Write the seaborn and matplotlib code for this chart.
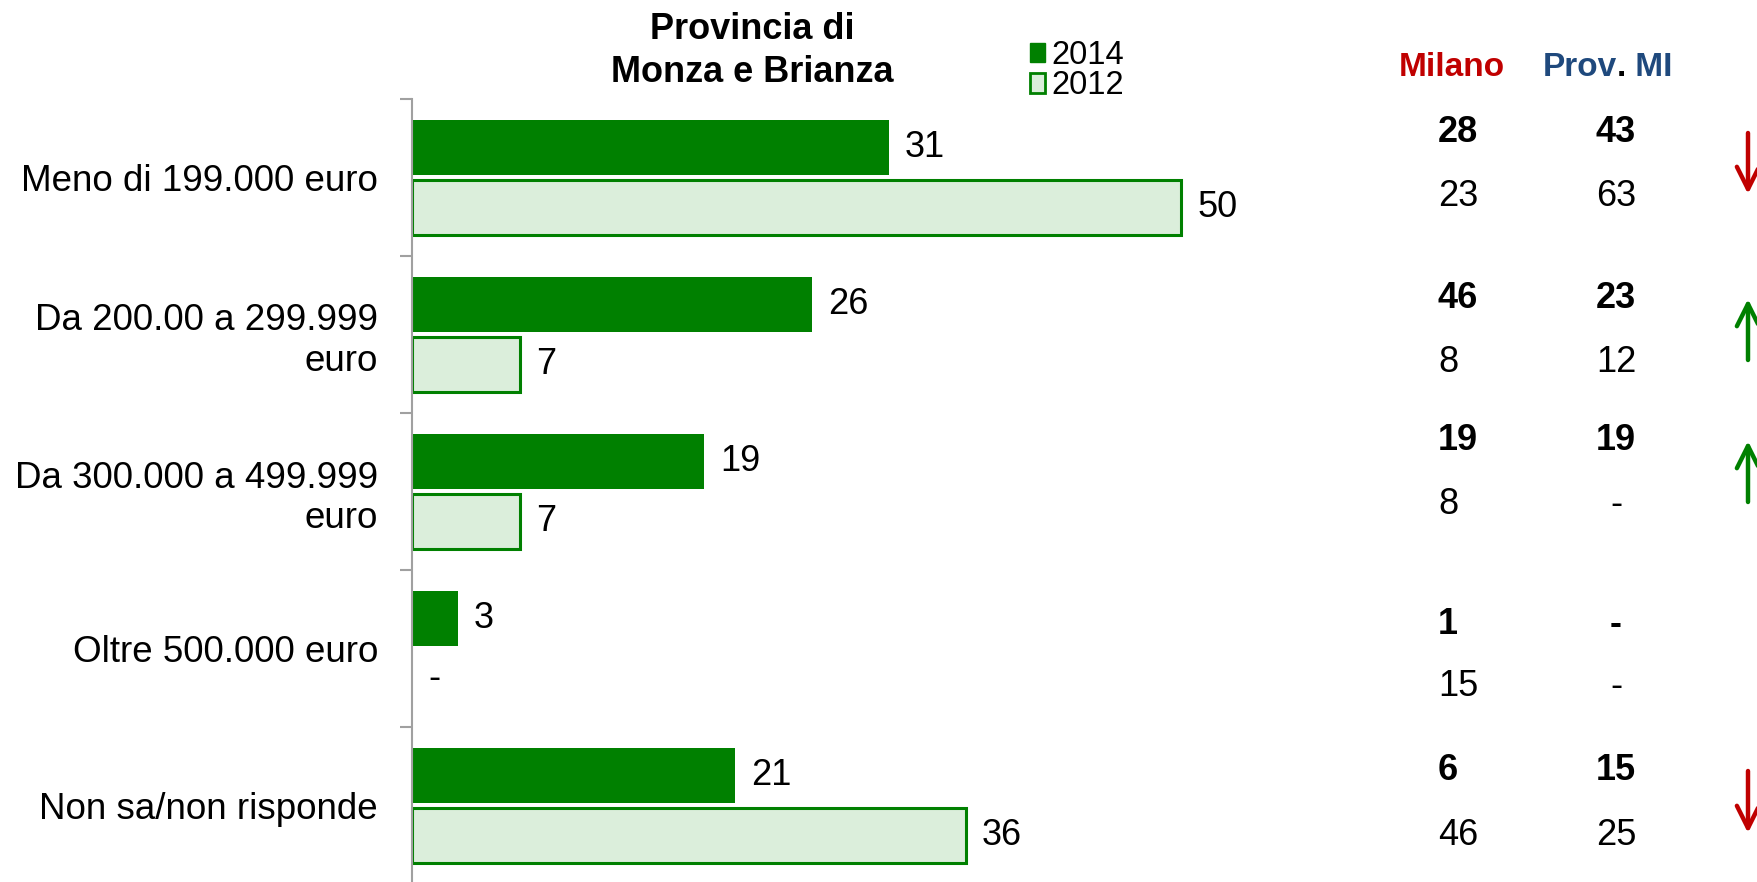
import matplotlib
matplotlib.use("Agg")
import matplotlib.pyplot as plt
import pandas as pd
import seaborn as sns
from matplotlib.patches import Patch

# dati
fasce = ["Meno di 199.000 euro", "Da 200.00 a 299.999\neuro",
         "Da 300.000 a 499.999\neuro", "Oltre 500.000 euro", "Non sa/non risponde"]
anni = ["2014", "2012"]
valori_2014 = [31, 26, 19, 3, 21]
valori_2012 = [50, 7, 7, 0, 36]
etichette_2014 = ["31", "26", "19", "3", "21"]
etichette_2012 = ["50", "7", "7", "-", "36"]

# confronto a destra
milano_2014 = ["28", "46", "19", "1", "6"]
milano_2012 = ["23", "8", "8", "15", "46"]
prov_mi_2014 = ["43", "23", "19", "-", "15"]
prov_mi_2012 = ["63", "12", "-", "-", "25"]
tendenza = ["giu", "su", "su", "", "giu"]

VERDE = "#008000"
VERDE_CHIARO = "#DBEEDB"
ROSSO = "#C00000"
BLU = "#1F497D"
GRIGIO = "#A0A0A0"

W, H = 1758, 882


def fx(px):
    return px / W


def fy(py):
    return 1 - py / H


sns.set_theme(style="white")
plt.rcParams["font.family"] = ["Liberation Sans", "DejaVu Sans"]
plt.rcParams["text.color"] = "black"
plt.rcParams["ytick.labelcolor"] = "black"

df = pd.DataFrame({
    "fascia": fasce * 2,
    "anno": [anni[0]] * len(fasce) + [anni[1]] * len(fasce),
    "valore": valori_2014 + valori_2012,
})

fig = plt.figure(figsize=(W / 100, H / 100), dpi=100)
ax = fig.add_axes([fx(412), fy(884), fx(1258) - fx(412), fy(99) - fy(884)])

sns.barplot(data=df, y="fascia", x="valore", hue="anno", hue_order=anni,
            palette=[VERDE, VERDE_CHIARO], saturation=1, orient="h",
            width=0.76, gap=0.08, linewidth=0, legend=False, ax=ax)

# bordo verde per le barre 2012
for p in ax.containers[1]:
    if p.get_width() > 0:
        p.set_edgecolor(VERDE)
        p.set_linewidth(2.2)

ax.bar_label(ax.containers[0], labels=etichette_2014, padding=11.5, fontsize=26, color="black")
ax.bar_label(ax.containers[1], labels=etichette_2012, padding=11.5, fontsize=26, color="black")

ax.set_xlim(0, 55)
ax.set_ylim(len(fasce) - 0.5, -0.5)
ax.set_xlabel("")
ax.set_ylabel("")
ax.set_xticks([])
for s in ["top", "right", "bottom"]:
    ax.spines[s].set_visible(False)
ax.spines["left"].set_color(GRIGIO)
ax.spines["left"].set_linewidth(1.5)
ax.set_yticks(range(len(fasce)))
ax.set_yticklabels(fasce, fontsize=26.5, color="black")
ax.set_yticks([i - 0.5 for i in range(len(fasce) + 1)], minor=True)
ax.tick_params(axis="y", which="major", length=0, pad=24.5)
ax.tick_params(axis="y", which="minor", length=9, width=1.5, color=GRIGIO, left=True)

# titolo
fig.text(fx(752), fy(51), "Provincia di\nMonza e Brianza", ha="center", va="center",
         fontsize=26, fontweight="bold", linespacing=1.32)

# legenda
maniglie = [Patch(facecolor=VERDE, edgecolor=VERDE),
            Patch(facecolor=VERDE_CHIARO, edgecolor=VERDE, linewidth=2)]
fig.legend(maniglie, anni, loc="upper left", bbox_to_anchor=(fx(1030), fy(40)),
           frameon=False, fontsize=23.5, handlelength=0.46, handleheight=0.55,
           handletextpad=0.2, labelspacing=-0.02, borderpad=0, borderaxespad=0)

# intestazioni tabella
fig.text(fx(1452), fy(76), "Milano", ha="center", va="baseline", fontsize=24,
         fontweight="bold", color=ROSSO)
t1 = fig.text(fx(1543), fy(76), "Prov", ha="left", va="baseline", fontsize=24,
              fontweight="bold", color=BLU)
t2 = ax.annotate(".", xy=(1, 0), xycoords=t1, ha="left", va="bottom", fontsize=24,
                 fontweight="bold", color="black", annotation_clip=False)
ax.annotate(" MI", xy=(1, 0), xycoords=t2, ha="left", va="bottom", fontsize=24,
            fontweight="bold", color=BLU, annotation_clip=False)

# righe tabella (linee di base)
y_grassetto = [142, 308, 450, 634, 780]
y_normale = [206, 372, 514, 696, 845]
for i in range(len(fasce)):
    fig.text(fx(1438), fy(y_grassetto[i]), milano_2014[i], ha="left", va="baseline",
             fontsize=26, fontweight="bold")
    fig.text(fx(1616), fy(y_grassetto[i]), prov_mi_2014[i], ha="center", va="baseline",
             fontsize=26, fontweight="bold")
    fig.text(fx(1438), fy(y_normale[i]), milano_2012[i], ha="left", va="baseline",
             fontsize=26)
    fig.text(fx(1616), fy(y_normale[i]), prov_mi_2012[i], ha="center", va="baseline",
             fontsize=26)
    if tendenza[i]:
        top, bot = y_grassetto[i] - 9, y_normale[i] - 12
        if tendenza[i] == "giu":
            start, end, col = top, bot, ROSSO
        else:
            start, end, col = bot, top, VERDE
        ax.annotate("", xy=(fx(1748), fy(end)), xytext=(fx(1748), fy(start)),
                    xycoords="figure fraction", textcoords="figure fraction",
                    arrowprops=dict(arrowstyle="->", color=col, lw=3.2,
                                    mutation_scale=40, shrinkA=0, shrinkB=0),
                    annotation_clip=False)

fig.savefig("out.png", dpi=100)
